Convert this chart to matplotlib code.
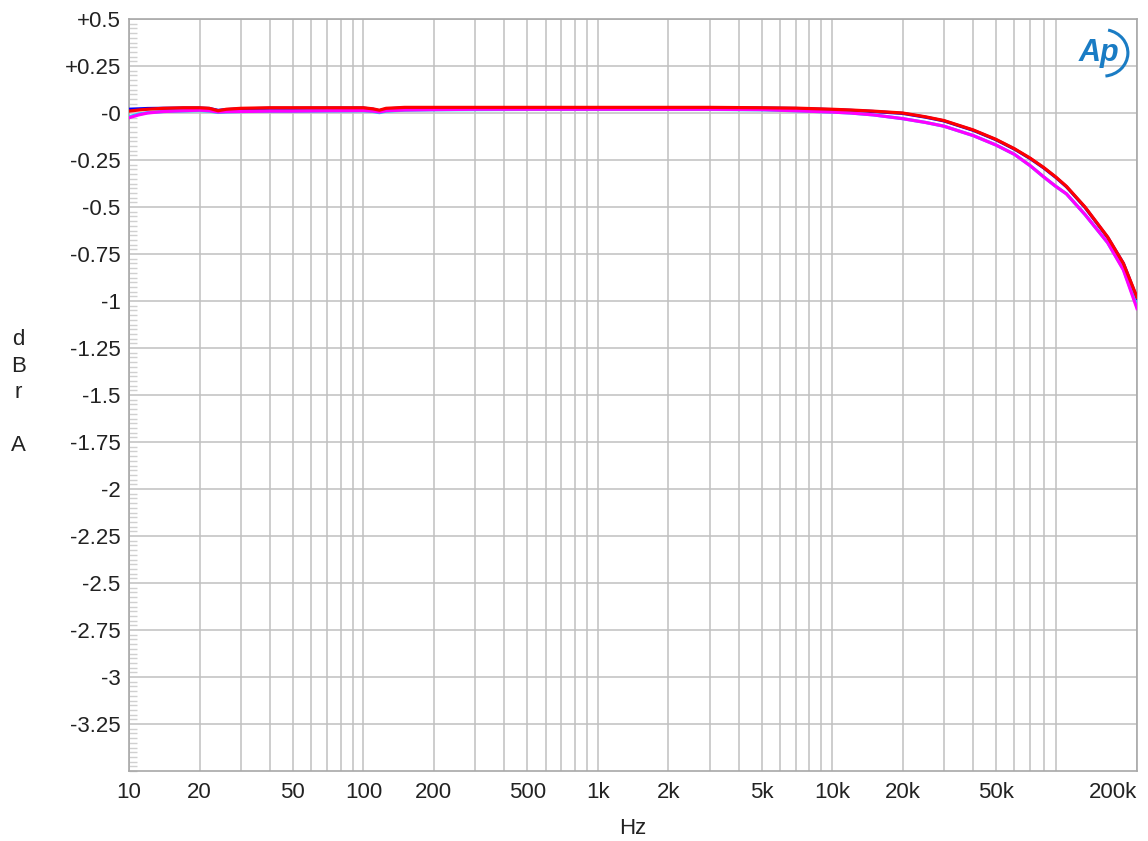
import matplotlib
matplotlib.use("Agg")
import matplotlib.pyplot as plt
from matplotlib.patches import Arc
from matplotlib.ticker import FixedLocator, MultipleLocator, LogLocator, NullFormatter
import numpy as np

plt.rcParams['font.family'] = ['Liberation Sans', 'DejaVu Sans']

# frequency points (Hz)
freq = [10, 11, 12, 14, 17, 20, 22, 24, 26, 30, 40, 50, 70, 100, 110, 117, 125, 150,
        200, 300, 500, 1000, 2000, 3000, 5000, 7000, 10000, 12000, 15000, 20000, 25000,
        30000, 40000, 50000, 60000, 70000, 80000, 90000, 100000, 120000, 150000, 175000, 200000]

# level in dBrA for each trace
blue = [0.02, 0.022, 0.024, 0.025, 0.026, 0.026, 0.024, 0.014, 0.018, 0.022, 0.025, 0.025,
        0.026, 0.026, 0.02, 0.012, 0.022, 0.027, 0.028, 0.028, 0.028, 0.028, 0.028, 0.028,
        0.026, 0.024, 0.018, 0.014, 0.008, -0.002, -0.022, -0.042, -0.092, -0.142, -0.192,
        -0.242, -0.292, -0.342, -0.392, -0.502, -0.662, -0.8, -0.985]
red = [0.01, 0.016, 0.02, 0.025, 0.028, 0.028, 0.025, 0.012, 0.02, 0.025, 0.028, 0.028,
       0.028, 0.028, 0.022, 0.015, 0.025, 0.03, 0.03, 0.03, 0.03, 0.03, 0.03, 0.03,
       0.028, 0.026, 0.02, 0.016, 0.01, 0.0, -0.02, -0.04, -0.09, -0.14, -0.19,
       -0.24, -0.29, -0.34, -0.39, -0.5, -0.66, -0.8, -0.98]
cyan = [-0.02, -0.006, 0.002, 0.008, 0.011, 0.013, 0.01, 0.003, 0.006, 0.008, 0.009, 0.009,
        0.011, 0.012, 0.008, 0.002, 0.01, 0.015, 0.017, 0.018, 0.019, 0.019, 0.019, 0.019,
        0.017, 0.012, 0.005, 0.0, -0.01, -0.03, -0.05, -0.07, -0.12, -0.17, -0.22,
        -0.28, -0.34, -0.39, -0.43, -0.54, -0.69, -0.83, -1.03]
magenta = [-0.025, -0.01, 0.0, 0.008, 0.012, 0.015, 0.012, 0.005, 0.007, 0.008, 0.01, 0.01,
           0.012, 0.013, 0.01, 0.005, 0.012, 0.016, 0.018, 0.02, 0.02, 0.02, 0.02, 0.02,
           0.018, 0.012, 0.005, 0.0, -0.01, -0.03, -0.05, -0.07, -0.12, -0.17, -0.22,
           -0.28, -0.34, -0.39, -0.43, -0.54, -0.69, -0.835, -1.04]

x_ticks = [10, 20, 50, 100, 200, 500, 1000, 2000, 5000, 10000, 20000, 50000, 200000]
x_labels = ['10', '20', '50', '100', '200', '500', '1k', '2k', '5k', '10k', '20k', '50k', '200k']
y_ticks = [0.5, 0.25, 0, -0.25, -0.5, -0.75, -1, -1.25, -1.5, -1.75, -2, -2.25, -2.5,
           -2.75, -3, -3.25]
y_labels = ['+0.5', '+0.25', '-0', '-0.25', '-0.5', '-0.75', '-1', '-1.25', '-1.5', '-1.75',
            '-2', '-2.25', '-2.5', '-2.75', '-3', '-3.25']

fs = 16
fig = plt.figure(figsize=(11.48, 8.41), dpi=100)
ax = fig.add_axes([0.1124, 0.0832, 0.878, 0.8942])

grid_col = '#c0c0c0'
ax.plot(freq, blue, color='#0000ff', lw=2.3, zorder=3)
ax.plot(freq, cyan, color='#00e0ff', lw=2.3, zorder=3)
ax.plot(freq, magenta, color='#ff00ff', lw=2.3, zorder=4)
ax.plot(freq, red, color='#ff0000', lw=2.3, zorder=5)

ax.set_xscale('log')
ax.set_xlim(10, 200000)
ax.set_ylim(-3.5, 0.5)

ax.xaxis.set_major_locator(FixedLocator(x_ticks))
ax.set_xticklabels(x_labels, fontsize=fs, color='#222222')
ax.xaxis.set_minor_locator(LogLocator(base=10, subs=np.arange(2, 10), numticks=20))
ax.xaxis.set_minor_formatter(NullFormatter())
ax.grid(True, which='both', axis='x', color=grid_col, lw=1.1)
for lab in ax.get_xticklabels():
    if lab.get_text() == '200k':
        lab.set_ha('right')

ax.yaxis.set_major_locator(FixedLocator(y_ticks))
ax.set_yticklabels(y_labels, fontsize=fs, color='#222222')
ax.yaxis.set_minor_locator(MultipleLocator(0.025))
ax.grid(True, which='major', axis='y', color=grid_col, lw=1.1)

ax.tick_params(axis='x', which='both', length=0, pad=8)
ax.tick_params(axis='y', which='major', length=0, pad=6)
ax.tick_params(axis='y', which='minor', direction='in', length=6, color='#d0d0d0', width=1)

for s in ax.spines.values():
    s.set_color('#a8a8a8')
    s.set_linewidth(1.2)

fig.text(0.016, 0.533, 'd\nB\nr\n\nA', fontsize=fs, ha='center', va='center',
         linespacing=1.35, color='#222222')
ax.set_xlabel('Hz', fontsize=fs, labelpad=11, color='#222222')

# AP logo
ax.text(0.962, 0.955, 'Ap', transform=ax.transAxes, fontsize=22, fontstyle='italic',
        fontweight='bold', color='#1a7cc4', ha='center', va='center', zorder=6)
ax.add_patch(Arc((0.966, 0.955), 0.05, 0.062, theta1=-85, theta2=80, transform=ax.transAxes,
                 color='#1a7cc4', lw=2.2, zorder=6))

fig.savefig('out.png', dpi=100)
